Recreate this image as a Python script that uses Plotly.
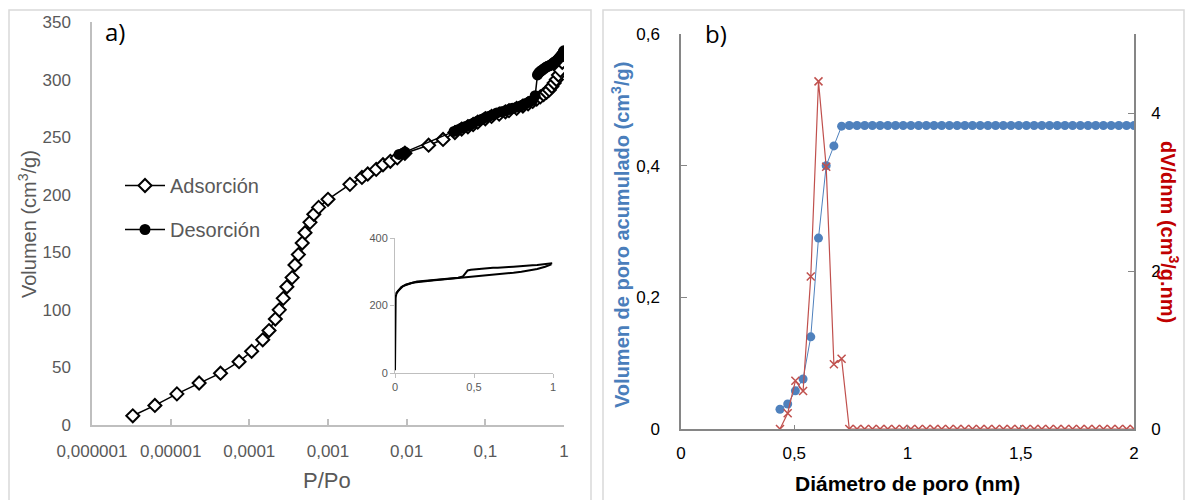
import plotly.graph_objects as go

# ---------------- Panel a) N2 isotherm ----------------
p_ads = [3.3e-6, 6.3e-6, 1.2e-5, 2.3e-5, 4.3e-5, 7.4e-5, 1.07e-4, 1.48e-4, 1.78e-4,
         2.14e-4, 2.4e-4, 2.7e-4, 3.0e-4, 3.5e-4, 3.8e-4, 4.2e-4, 4.7e-4, 5.1e-4,
         5.9e-4, 6.6e-4, 7.6e-4, 1.0e-3, 1.9e-3, 2.7e-3, 3.2e-3, 4.1e-3, 5.0e-3,
         6.2e-3, 7.6e-3, 9.5e-3, 0.019, 0.029, 0.041, 0.05, 0.06, 0.07, 0.08, 0.1,
         0.12, 0.15, 0.18, 0.2, 0.25, 0.3, 0.35, 0.4, 0.45, 0.5, 0.55, 0.6, 0.65,
         0.7, 0.75, 0.8, 0.85, 0.9, 0.95, 0.99]
v_ads = [8, 17, 27, 36.5, 45, 55, 64, 74, 82, 92, 100, 110, 120, 128, 139, 148,
         158, 167, 176, 183, 189, 196, 209, 215, 218, 222, 226, 229, 232, 236,
         243, 248, 254, 257, 259, 261, 263, 266, 268, 270, 272, 273, 275, 277,
         279, 281, 283, 285, 287, 289, 291, 294, 297, 300, 304, 308, 315, 322]

p_des = [0.995, 0.98, 0.95, 0.92, 0.9, 0.87, 0.85, 0.82, 0.8, 0.77, 0.75, 0.72,
         0.7, 0.67, 0.65, 0.62, 0.6, 0.57, 0.55, 0.52, 0.5, 0.48, 0.46, 0.43,
         0.4, 0.37, 0.35, 0.32, 0.3, 0.28, 0.25, 0.22, 0.2, 0.18, 0.16, 0.14,
         0.12, 0.11, 0.1, 0.09, 0.08, 0.07, 0.065, 0.06, 0.055, 0.05, 0.045, 0.04,
         0.0095, 0.009, 0.008]
v_des = [325, 324, 322, 321, 320, 319, 318, 317, 316, 315.5, 315, 314,
         313, 312.5, 312, 311.5, 311, 310, 309, 308, 307, 306, 304, 286,
         282, 281, 280, 279, 278, 277, 276, 275, 274, 273, 272, 271,
         269, 268, 267, 265.5, 264, 262, 261, 260, 259, 258, 256.5, 255,
         237, 236, 235]

log_ticks = [1e-6, 1e-5, 1e-4, 1e-3, 1e-2, 1e-1, 1]
log_labels = ["0,000001", "0,00001", "0,0001", "0,001", "0,01", "0,1", "1"]
inset_xticks = [0, 0.5, 1]
inset_xlabels = ["0", "0,5", "1"]

# ---------------- Panel b) pore size distribution ----------------
diametro = [0.437, 0.471, 0.505, 0.539, 0.573, 0.607, 0.641, 0.675, 0.709, 0.743,
            0.777, 0.811, 0.845, 0.879, 0.913, 0.947, 0.981, 1.015, 1.049, 1.083,
            1.117, 1.151, 1.185, 1.219, 1.253, 1.287, 1.321, 1.355, 1.389, 1.423,
            1.457, 1.491, 1.525, 1.559, 1.593, 1.627, 1.661, 1.695, 1.729, 1.763,
            1.797, 1.831, 1.865, 1.899, 1.933, 1.967, 2.0]
vol_acum = [0.030, 0.038, 0.058, 0.076, 0.140, 0.290, 0.400, 0.430, 0.460, 0.461,
            0.461, 0.461, 0.461, 0.461, 0.461, 0.461, 0.461, 0.461, 0.461, 0.461,
            0.461, 0.461, 0.461, 0.461, 0.461, 0.461, 0.461, 0.461, 0.461, 0.461,
            0.461, 0.461, 0.461, 0.461, 0.461, 0.461, 0.461, 0.461, 0.461, 0.461,
            0.461, 0.461, 0.461, 0.461, 0.461, 0.461, 0.461]
dv_dnm = [0.0, 0.20, 0.61, 0.48, 1.93, 4.40, 3.32, 0.82, 0.89, 0.0,
          0.0, 0.0, 0.0, 0.0, 0.0, 0.0, 0.0, 0.0, 0.0, 0.0,
          0.0, 0.0, 0.0, 0.0, 0.0, 0.0, 0.0, 0.0, 0.0, 0.0,
          0.0, 0.0, 0.0, 0.0, 0.0, 0.0, 0.0, 0.0, 0.0, 0.0,
          0.0, 0.0, 0.0, 0.0, 0.0, 0.0, 0.0]
b_xticks = [0, 0.5, 1, 1.5, 2]
b_xlabels = ["0", "0,5", "1", "1,5", "2"]
b_yticks = [0, 0.2, 0.4, 0.6]
b_ylabels = ["0", "0,2", "0,4", "0,6"]
b_y2ticks = [0, 2, 4]
b_y2labels = ["0", "2", "4"]

W, H = 1187, 500


def fx(x):
    return x / W


def fy(y):
    return 1 - y / H


GRAY = "#595959"
AXIS_A = "#BFBFBF"
AXIS_B = "#868686"
BLUE = "#4A7EBB"
RED = "#C0504D"
FONT = "Liberation Sans, Arial, sans-serif"

fig = go.Figure()

# isotherm, main log-scale plot
fig.add_trace(go.Scatter(
    x=p_ads, y=v_ads, mode="lines+markers", name="Adsorción",
    legendgroup="ads", legendrank=1,
    line=dict(color="black", width=1.5),
    marker=dict(symbol="diamond", size=10, color="white",
                line=dict(color="black", width=2)),
    xaxis="x", yaxis="y"))
fig.add_trace(go.Scatter(
    x=p_des, y=v_des, mode="lines+markers", name="Desorción",
    legendgroup="des", legendrank=2,
    line=dict(color="black", width=1.5),
    marker=dict(symbol="circle", size=11, color="black"),
    xaxis="x", yaxis="y"))

# isotherm, linear inset
fig.add_trace(go.Scatter(
    x=p_ads, y=v_ads, mode="lines", showlegend=False,
    line=dict(color="black", width=2), xaxis="x2", yaxis="y2"))
fig.add_trace(go.Scatter(
    x=p_des, y=v_des, mode="lines", showlegend=False,
    line=dict(color="black", width=2), xaxis="x2", yaxis="y2"))

# pore size distribution
fig.add_trace(go.Scatter(
    x=diametro, y=vol_acum, mode="lines+markers", showlegend=False,
    line=dict(color="#4F81BD", width=1),
    marker=dict(symbol="circle", size=9, color="#4F81BD"),
    xaxis="x3", yaxis="y3"))
fig.add_trace(go.Scatter(
    x=diametro, y=dv_dnm, mode="lines+markers", showlegend=False,
    line=dict(color=RED, width=1.2),
    marker=dict(symbol="x-thin", size=8, line=dict(color=RED, width=1.5)),
    xaxis="x3", yaxis="y4"))

tick_a = dict(family=FONT, size=17, color=GRAY)
tick_b = dict(family=FONT, size=17, color="black")

fig.update_layout(
    width=W, height=H,
    margin=dict(l=0, r=0, t=0, b=0, autoexpand=False),
    paper_bgcolor="white", plot_bgcolor="rgba(0,0,0,0)",
    font=dict(family=FONT),
    xaxis=dict(
        type="log", range=[-6, 0], domain=[fx(92), fx(564)],
        anchor="y", tickvals=log_ticks, ticktext=log_labels,
        tickfont=tick_a, showgrid=False, zeroline=False, automargin=False,
        showline=True, linecolor=AXIS_A, linewidth=1.5,
        ticks="inside", ticklen=6, tickcolor=AXIS_A, tickwidth=1.5,
        ticklabelstandoff=10),
    yaxis=dict(
        range=[0, 350], domain=[fy(425), fy(22)], anchor="x",
        tickvals=[0, 50, 100, 150, 200, 250, 300, 350],
        tickfont=tick_a, showgrid=False, zeroline=False, automargin=False,
        showline=True, linecolor=AXIS_A, linewidth=1.5, ticks="",
        ticklabelstandoff=16),
    xaxis2=dict(
        range=[0, 1], domain=[fx(395), fx(553)], anchor="y2",
        tickvals=inset_xticks, ticktext=inset_xlabels,
        tickfont=dict(family=FONT, size=11, color=GRAY), automargin=False,
        showgrid=False, zeroline=False, showline=True,
        linecolor=AXIS_A, linewidth=1, ticks="outside", ticklen=4,
        tickcolor=AXIS_A),
    yaxis2=dict(
        range=[0, 400], domain=[fy(373), fy(238)], anchor="x2",
        tickvals=[0, 200, 400], automargin=False,
        tickfont=dict(family=FONT, size=11, color=GRAY),
        showgrid=False, zeroline=False, showline=True,
        linecolor=AXIS_A, linewidth=1, ticks="outside", ticklen=4,
        tickcolor=AXIS_A),
    xaxis3=dict(
        range=[0, 2], domain=[fx(681), fx(1134)], anchor="y3",
        tickvals=b_xticks, ticktext=b_xlabels, tickfont=tick_b,
        showgrid=False, zeroline=False, showline=True, automargin=False,
        linecolor=AXIS_B, linewidth=1.5, ticks="inside", ticklen=4,
        tickcolor=AXIS_B, ticklabelstandoff=8),
    yaxis3=dict(
        range=[0, 0.6], domain=[fy(429), fy(34)], anchor="x3",
        tickvals=b_yticks, ticktext=b_ylabels, tickfont=tick_b,
        showgrid=False, zeroline=False, showline=True, automargin=False,
        linecolor=AXIS_B, linewidth=1.5, ticks="inside", ticklen=6,
        tickcolor=AXIS_B, ticklabelstandoff=16),
    yaxis4=dict(
        range=[0, 5], overlaying="y3", side="right", anchor="x3",
        tickvals=b_y2ticks, ticktext=b_y2labels, tickfont=tick_b,
        showgrid=False, zeroline=False, showline=True, automargin=False,
        linecolor=AXIS_B, linewidth=1.5, ticks="inside", ticklen=6,
        tickcolor=AXIS_B, ticklabelstandoff=12),
    legend=dict(
        x=fx(120), y=fy(166), xanchor="left", yanchor="top",
        font=dict(family=FONT, size=20, color=GRAY),
        bgcolor="rgba(0,0,0,0)", tracegroupgap=15,
        itemwidth=40),
)

# panel frames
for x0, x1 in [(9, 591), (603, 1184)]:
    fig.add_shape(type="rect", xref="paper", yref="paper",
                  x0=fx(x0), x1=fx(x1), y0=fy(510), y1=fy(10),
                  line=dict(color="#D9D9D9", width=1.5), layer="below")

annots = [
    dict(text="a)", x=fx(103), y=fy(31), xanchor="left",
         font=dict(family="Open Sans, sans-serif", size=24, color="black")),
    dict(text="b)", x=fx(703), y=fy(33), xanchor="left",
         font=dict(family="Open Sans, sans-serif", size=24, color="black")),
    dict(text="Volumen (cm<sup>3</sup>/g)", x=fx(28), y=fy(224), textangle=-90,
         font=dict(family=FONT, size=20, color=GRAY)),
    dict(text="P/Po", x=fx(327), y=fy(480),
         font=dict(family=FONT, size=22, color=GRAY)),
    dict(text="<b>Volumen de poro acumulado (cm<sup>3</sup>/g)</b>", x=fx(620), y=fy(235),
         textangle=-90, font=dict(family=FONT, size=20, color=BLUE)),
    dict(text="<b>dV/dnm (cm<sup>3</sup>/g.nm)</b>", x=fx(1169), y=fy(232),
         textangle=90, font=dict(family=FONT, size=20, color="#C00000")),
    dict(text="<b>Diámetro de poro (nm)</b>", x=fx(907), y=fy(483),
         font=dict(family=FONT, size=21, color="black")),
]
for a in annots:
    a.setdefault("xanchor", "center")
    a.setdefault("yanchor", "middle")
    fig.add_annotation(xref="paper", yref="paper", showarrow=False, **a)

fig.write_html("out.html")
